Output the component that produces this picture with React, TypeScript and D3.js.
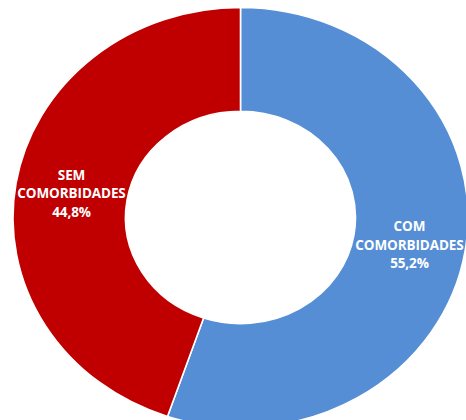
import * as d3 from 'd3';

const LABELS = ['COM', 'SEM'];
const VALUES = [55.2, 44.8];
const COLORS = ['#558ED5', '#C00000'];

const W = 466;
const H = 420;
const CX = 240.5;
const CY = 217.5;
const RX = 227.5;
const RY = 210;
const INNER = 115;

export default function App() {
  const pie = d3.pie<number>().sort(null).value((d) => d);
  const arcs = pie(VALUES);
  const arc = d3.arc<d3.PieArcDatum<number>>().innerRadius(INNER).outerRadius(RX);
  const sy = RY / RX;

  return (
    <svg
      width={W}
      height={H}
      style={{ position: 'absolute', left: 0, top: 0, display: 'block' }}
      fontFamily="'Open Sans', sans-serif"
    >
      <rect width={W} height={H} fill="#fff" />
      <g transform={`translate(${CX},${CY}) scale(1,${sy})`}>
        {arcs.map((a, i) => (
          <path
            key={LABELS[i]}
            d={arc(a) ?? ''}
            fill={COLORS[i]}
            stroke="#fff"
            strokeWidth={1.6}
          />
        ))}
      </g>
      {arcs.map((a, i) => {
        const [x, y] = arc.centroid(a);
        const px = CX + x;
        const py = CY + y * sy;
        return (
          <text
            key={LABELS[i]}
            x={px}
            y={py}
            textAnchor="middle"
            fill="#fff"
            fontWeight="bold"
            fontSize={13.5}
            letterSpacing={-0.1}
          >
            <tspan x={px} dy={-12}>{LABELS[i]}</tspan>
            <tspan x={px} dy={18.5}>COMORBIDADES</tspan>
            <tspan x={px} dy={18.5}>{VALUES[i].toFixed(1).replace('.', ',')}%</tspan>
          </text>
        );
      })}
    </svg>
  );
}
